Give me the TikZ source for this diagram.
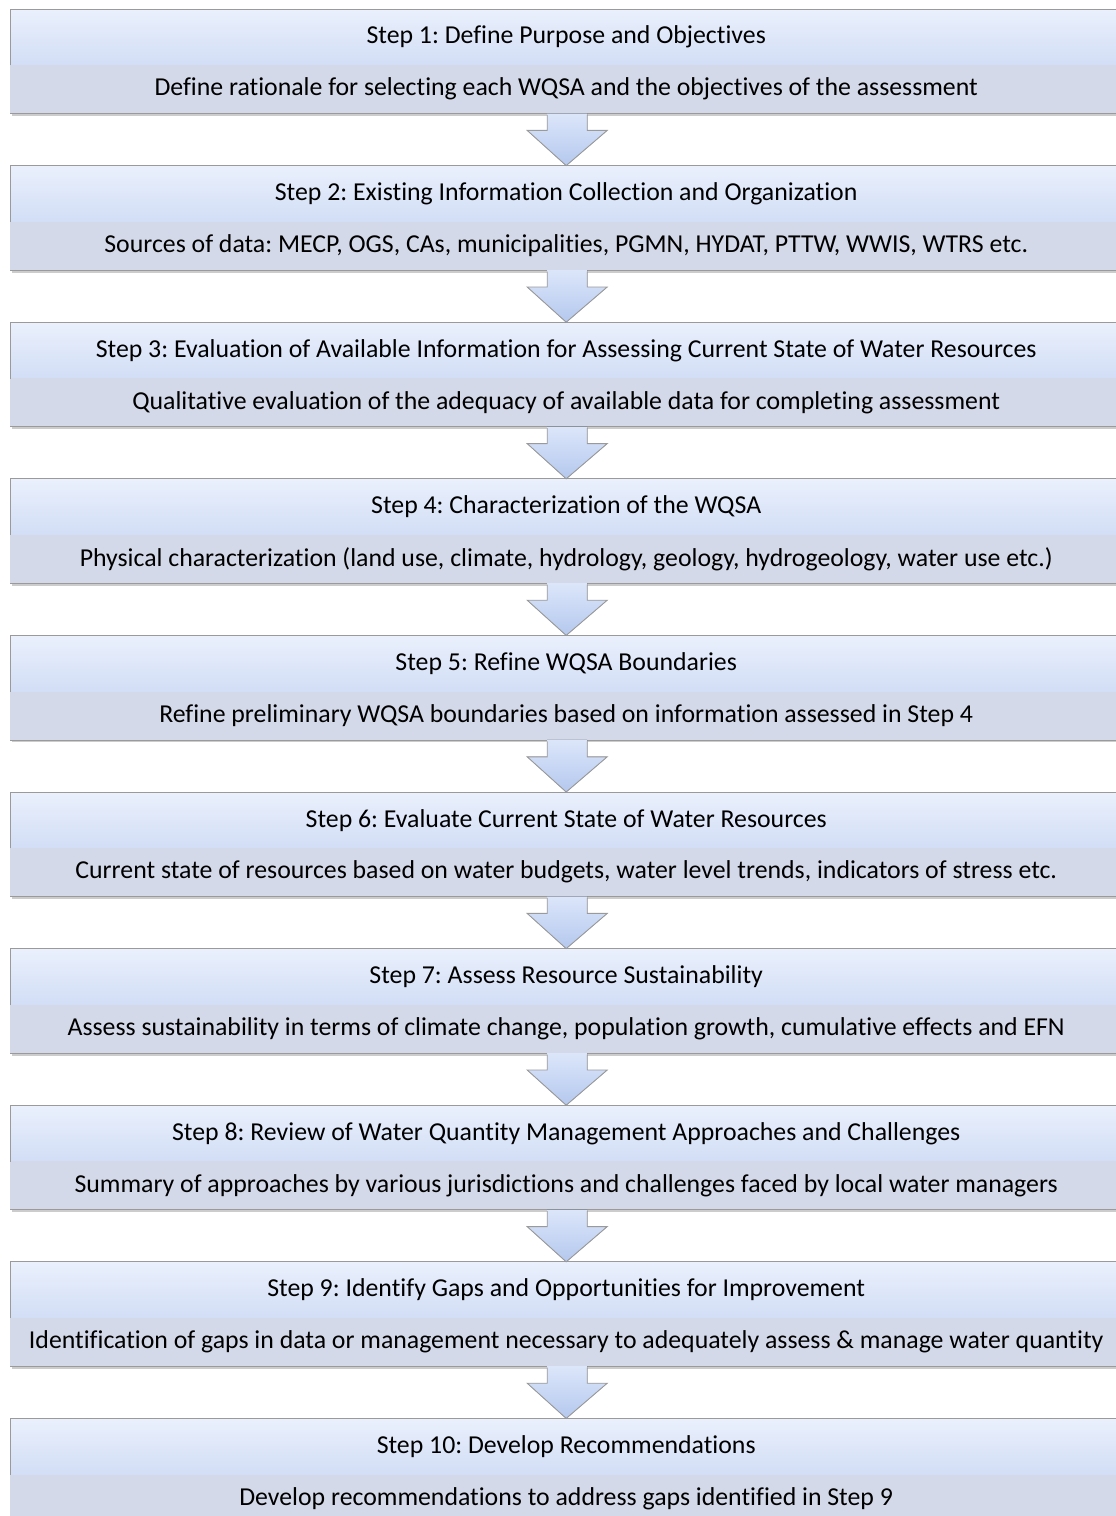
\documentclass[tikz,border=0pt]{standalone}
\usepackage{fontspec}
\setmainfont{Carlito}[RawFeature=-liga]
\usetikzlibrary{calc}
\definecolor{topA}{HTML}{EAF0FC}
\definecolor{topB}{HTML}{D2DEF6}
\definecolor{descC}{HTML}{D3D9E8}
\definecolor{edgeC}{HTML}{9A9A9A}
\definecolor{arrA}{HTML}{DCE6FA}
\definecolor{arrB}{HTML}{B4C8EE}
\tikzset{
  titlebox/.style={rectangle, anchor=north west, minimum width=1112pt, minimum height=56pt,
    inner sep=0pt, top color=topA, bottom color=topB, font=\fontsize{25.8}{30}\selectfont},
  descbox/.style={rectangle, anchor=north west, minimum width=1112pt, minimum height=48pt,
    inner sep=0pt, fill=descC, font=\fontsize{25.8}{30}\selectfont},
  boxedge/.style={draw=edgeC, line width=1pt},
  shadowline/.style={line width=3pt, draw=black!20},
  arrowfill/.style={top color=arrA, bottom color=arrB},
  arrowedge/.style={draw=edgeC, line width=0.9pt, line join=miter},
}
\frenchspacing
\begin{document}
\begin{tikzpicture}[x=1pt,y=-1pt]
\useasboundingbox (0,0) rectangle (1116,1516);
\clip (0,0) rectangle (1116,1516);
\foreach \i/\t/\d in {
 1/{Step 1: Define Purpose and Objectives}/{Define rationale for selecting each WQSA and the objectives of the assessment},
 2/{Step 2: Existing Information Collection and Organization}/{Sources of data: MECP, OGS, CAs, municipalities, PGMN, HYDAT, PTTW, WWIS, WTRS etc.},
 3/{Step 3: Evaluation of Available Information for Assessing Current State of Water Resources}/{Qualitative evaluation of the adequacy of available data for completing assessment},
 4/{Step 4: Characterization of the WQSA}/{Physical characterization (land use, climate, hydrology, geology, hydrogeology, water use etc.)},
 5/{Step 5: Refine WQSA Boundaries}/{Refine preliminary WQSA boundaries based on information assessed in Step 4},
 6/{Step 6: Evaluate Current State of Water Resources}/{Current state of resources based on water budgets, water level trends, indicators of stress etc.},
 7/{Step 7: Assess Resource Sustainability}/{Assess sustainability in terms of climate change, population growth, cumulative effects and EFN},
 8/{Step 8: Review of Water Quantity Management Approaches and Challenges}/{Summary of approaches by various jurisdictions and challenges faced by local water managers},
 9/{Step 9: Identify Gaps and Opportunities for Improvement}/{Identification of gaps in data or management necessary to adequately assess \& manage water quantity},
 10/{Step 10: Develop Recommendations}/{Develop recommendations to address gaps identified in Step 9}}{
  \pgfmathsetmacro\yy{9+(\i-1)*156.6}
  \draw[shadowline] (12,\yy+105.5) -- (1122,\yy+105.5);
  \node[titlebox] (t\i) at (10,\yy) {\raisebox{-1.5pt}{\t}};
  \node[descbox] (d\i) at (10,\yy+56) {\raisebox{-2pt}{\d}};
  \draw[boxedge] (t\i.south west) -- (t\i.north west) -- (t\i.north east);
  \draw[edgeC, line width=0.6pt] (d\i.south west) -- (d\i.south east);
}
\foreach \i [evaluate=\i as \j using int(\i+1)] in {1,...,9}{
  \fill[arrowfill] ($(d\i.south)+(-19,0)$) -- ($(d\i.south)+(-19,17)$) -- ($(d\i.south)+(-39,17)$)
     -- (t\j.north) -- ($(d\i.south)+(41,17)$) -- ($(d\i.south)+(21,17)$) -- ($(d\i.south)+(21,0)$) -- cycle;
  \draw[arrowedge] ($(d\i.south)+(-19,1.5)$) -- ($(d\i.south)+(-19,17)$) -- ($(d\i.south)+(-39,17)$)
     -- (t\j.north) -- ($(d\i.south)+(41,17)$) -- ($(d\i.south)+(21,17)$) -- ($(d\i.south)+(21,1.5)$);
}
\end{tikzpicture}
\end{document}
